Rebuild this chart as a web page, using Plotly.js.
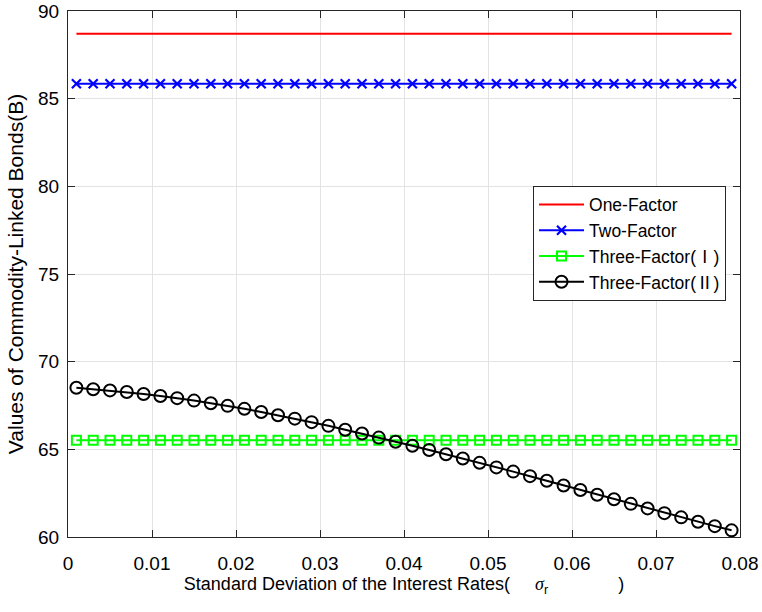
<!DOCTYPE html>
<html>
<head>
<meta charset="utf-8">
<script src="https://cdn.plot.ly/plotly-3.0.1.min.js"></script>
<style>html,body{margin:0;padding:0;background:#fff;}#chart{width:762px;height:612px;}</style>
</head>
<body>
<div id="chart"></div>
<script>
const sigmaR = [0.001,0.003,0.005,0.007,0.009,0.011,0.013,0.015,0.017,0.019,
                0.021,0.023,0.025,0.027,0.029,0.031,0.033,0.035,0.037,0.039,
                0.041,0.043,0.045,0.047,0.049,0.051,0.053,0.055,0.057,0.059,
                0.061,0.063,0.065,0.067,0.069,0.071,0.073,0.075,0.077,0.079];
const oneFactor = Array(40).fill(88.7);
const twoFactor = Array(40).fill(85.85);
const threeFactorI = Array(40).fill(65.52);
const threeFactorII = [68.51,68.43,68.36,68.27,68.16,68.04,67.92,67.78,67.63,67.48,
                       67.31,67.13,66.94,66.75,66.55,66.34,66.12,65.90,65.67,65.43,
                       65.20,64.96,64.72,64.48,64.23,63.97,63.73,63.47,63.21,62.94,
                       62.68,62.41,62.15,61.89,61.63,61.36,61.12,60.87,60.62,60.38];
const cjk = s => "<span style=\"font-family:'Noto Sans CJK SC'\">" + s + "</span>";
const names = ["One-Factor","Two-Factor",
               "Three-Factor(" + cjk("\u2160") + ")",
               "Three-Factor(" + cjk("\u2161") + ")"];
const xTicks = [0,0.01,0.02,0.03,0.04,0.05,0.06,0.07,0.08];
const xTickText = ["0","0.01","0.02","0.03","0.04","0.05","0.06","0.07","0.08"];
const yTicks = [60,65,70,75,80,85,90];

const FONT = "Liberation Sans, Arial, Helvetica, sans-serif";
const NB = n => "\u00a0".repeat(n);
const xTitle = "Standard Deviation of the Interest Rates(" + NB(5) +
  "<span style=\"font-family:'Liberation Serif'\"><i>\u03c3</i></span><sub>r</sub>" + NB(14) + ")";

const traces = [
  {x: sigmaR, y: oneFactor, name: names[0], mode: "lines",
   line: {color: "#ff0000", width: 2}, legendgroup: "a"},
  {x: sigmaR, y: twoFactor, name: names[1], mode: "lines+markers",
   line: {color: "#0000ff", width: 2},
   marker: {symbol: "x-thin", size: 9, line: {color: "#0000ff", width: 2.2}}, legendgroup: "b"},
  {x: sigmaR, y: threeFactorI, name: names[2], mode: "lines+markers",
   line: {color: "#00ff00", width: 2},
   marker: {symbol: "square-open", size: 9, color: "#00ff00", line: {width: 2}}, legendgroup: "c"},
  {x: sigmaR, y: threeFactorII, name: names[3], mode: "lines+markers",
   line: {color: "#000000", width: 2},
   marker: {symbol: "circle-open", size: 12, color: "#000000", line: {width: 2}}, legendgroup: "d"}
];

const axisCommon = {
  showline: true, linecolor: "#262626", linewidth: 1, mirror: "allticks",
  ticks: "inside", ticklen: 7, tickcolor: "#262626",
  showgrid: true, gridcolor: "#e3e3e3", gridwidth: 1, zeroline: false,
  tickfont: {family: FONT, size: 19, color: "#000"}
};

const layout = {
  width: 762, height: 612,
  margin: {l: 68, r: 22, t: 11, b: 75},
  paper_bgcolor: "#fff", plot_bgcolor: "#fff",
  font: {family: FONT, color: "#000"},
  xaxis: Object.assign({}, axisCommon, {
    range: [0, 0.08], tickvals: xTicks, ticktext: xTickText,
    ticklabelstandoff: 9,
    title: {text: xTitle, font: {size: 18, family: FONT}, standoff: 4}
  }),
  yaxis: Object.assign({}, axisCommon, {
    range: [60, 90], tickvals: yTicks,
    ticklabelstandoff: 4,
    title: {text: "Values of Commodity-Linked Bonds(B)",
            font: {size: 21, family: FONT}, standoff: 8}
  }),
  showlegend: true,
  legend: {
    x: 0.692, y: 0.668, xanchor: "left", yanchor: "top",
    bgcolor: "#fff", bordercolor: "#262626", borderwidth: 1,
    font: {size: 17.5, family: FONT, color: "#000"},
    itemwidth: 45,
    tracegroupgap: 0
  }
};

Plotly.newPlot("chart", traces, layout, {displayModeBar: false, staticPlot: true});
</script>
</body>
</html>
